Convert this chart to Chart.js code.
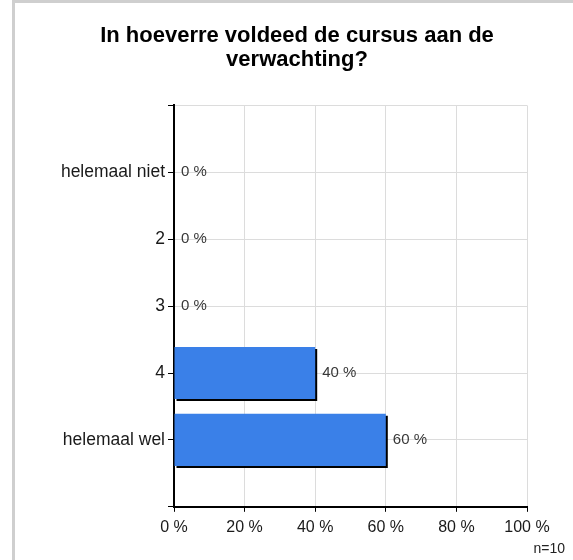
<!DOCTYPE html>
<html>
<head>
<meta charset="utf-8">
<script src="https://cdn.jsdelivr.net/npm/chart.js@4"></script>
<style>
    body { margin: 0; background: #fff; }
    #frame {
        position: absolute; left: 12px; top: 0;
        width: 558px; height: 557px;
        border-left: 3px solid #cfcfcf; border-top: 3px solid #cfcfcf;
    }
</style>
</head>
<body>
<div id="frame"><canvas id="chart" width="558" height="557"></canvas></div>
<script>
const titleLines = ['In hoeverre voldeed de cursus aan de', 'verwachting?'];
const categories = ['helemaal niet', '2', '3', '4', 'helemaal wel'];
const percentages = [0, 0, 0, 40, 60];
const xTicks = [0, 20, 40, 60, 80, 100];
const sampleNote = 'n=10';

const fontFamily = "'Liberation Sans', Arial, sans-serif";

// bars get a hard black shadow to the bottom right
const shadowPlugin = {
    id: 'barShadow',
    beforeDatasetsDraw(chart) {
        const ctx = chart.ctx;
        ctx.save();
        ctx.shadowColor = '#000';
        ctx.shadowOffsetX = 2;
        ctx.shadowOffsetY = 2;
        ctx.shadowBlur = 0;
    },
    afterDatasetsDraw(chart) {
        chart.ctx.restore();
    }
};

// value labels next to the bars + n= note
const labelPlugin = {
    id: 'valueLabels',
    afterDraw(chart) {
        const ctx = chart.ctx;
        const meta = chart.getDatasetMeta(0);
        ctx.save();
        ctx.font = '15px ' + fontFamily;
        ctx.fillStyle = '#383838';
        ctx.textAlign = 'left';
        ctx.textBaseline = 'middle';
        meta.data.forEach(function(bar, i) {
            ctx.fillText(percentages[i] + ' %', bar.x + 7, bar.y);
        });
        ctx.font = '14px ' + fontFamily;
        ctx.fillStyle = '#222';
        ctx.textAlign = 'right';
        ctx.textBaseline = 'alphabetic';
        ctx.fillText(sampleNote, chart.width - 8, chart.height - 7);
        ctx.restore();
    }
};

const ctx = document.getElementById('chart');
let chart = new Chart(ctx, {
    type: 'bar',
    data: {
        datasets: [{
            data: categories.map(function(c, i) { return { x: percentages[i], y: i + 1 }; }),
            backgroundColor: '#3a80e8',
            borderWidth: 0,
            barPercentage: 1,
            categoryPercentage: 0.78
        }]
    },
    plugins: [shadowPlugin, labelPlugin],
    options: {
        indexAxis: 'y',
        responsive: false,
        animation: false,
        layout: {
            padding: { left: 6, right: 0, top: 0, bottom: 17 }
        },
        plugins: {
            legend: { display: false },
            tooltip: { enabled: false },
            title: {
                display: true,
                text: titleLines,
                color: '#000',
                font: { family: fontFamily, size: 22, weight: 'bold', lineHeight: 1.1 },
                padding: { top: 21, bottom: 33 }
            }
        },
        scales: {
            x: {
                type: 'linear',
                min: 0,
                max: 100,
                afterBuildTicks: function(scale) {
                    scale.ticks = xTicks.map(function(v) { return { value: v }; });
                },
                ticks: {
                    color: '#1a1a1a',
                    padding: 6,
                    maxRotation: 0,
                    font: { family: fontFamily, size: 16 },
                    callback: function(v) { return v + ' %'; }
                },
                grid: { color: '#dcdcdc', tickColor: '#000', tickLength: 5 },
                border: { color: '#000', width: 2 },
                afterFit: function(scale) {
                    scale.paddingLeft = 0;
                    scale.paddingRight = 46;
                }
            },
            y: {
                type: 'linear',
                min: 0,
                max: categories.length + 1,
                reverse: true,
                offset: false,
                ticks: {
                    stepSize: 1,
                    color: '#1a1a1a',
                    padding: 3,
                    font: { family: fontFamily, size: 17.5 },
                    callback: function(v) { return categories[v - 1] || ''; }
                },
                grid: { offset: false, color: '#dcdcdc', tickColor: '#000', tickLength: 6 },
                border: { color: '#000', width: 2 },
                afterFit: function(scale) {
                    scale.width = 153;
                    scale.paddingTop = 0;
                    scale.paddingBottom = 0;
                }
            }
        }
    }
});
</script>
</body>
</html>
